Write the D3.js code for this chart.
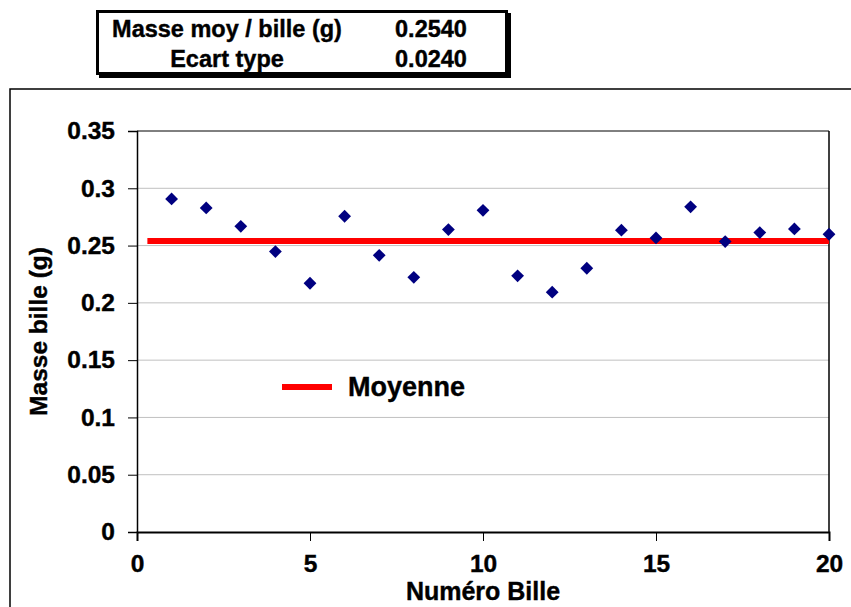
<!DOCTYPE html>
<html>
<head>
<meta charset="utf-8">
<script src="https://cdn.jsdelivr.net/npm/d3@7"></script>
<style>
  html, body { margin: 0; padding: 0; background: #ffffff; }
  svg { display: block; font-family: "Liberation Sans", Arial, sans-serif; font-weight: bold; }
  text { stroke: #000; stroke-width: 0.4px; fill: #000; }
</style>
</head>
<body>
<svg id="chart" width="851" height="607"></svg>
<script>
// ---- data ----
const billeNumbers = [1,2,3,4,5,6,7,8,9,10,11,12,13,14,15,16,17,18,19,20];
const masses = [0.2907,0.2829,0.2668,0.2448,0.2171,0.2756,0.2415,0.2223,0.2640,0.2808,
                0.2236,0.2093,0.2302,0.2634,0.2567,0.2838,0.2535,0.2613,0.2645,0.2599];
const meanX = [0.3, 20];
const meanY = [0.254, 0.254];
const yTicks = [0, 0.05, 0.1, 0.15, 0.2, 0.25, 0.3, 0.35];
const xTicks = [0, 5, 10, 15, 20];
const statLabels = ["Masse moy / bille (g)", "Ecart type"];
const statValues = ["0.2540", "0.0240"];
const legendLabel = "Moyenne";
const xTitle = "Numéro Bille";
const yTitle = "Masse bille (g)";

const svg = d3.select("#chart");
const pLeft = 137, pRight = 829, pTop = 131, pBottom = 532;

const x = d3.scaleLinear().domain([0, 20]).range([pLeft, pRight]);
const y = d3.scaleLinear().domain([0, 0.35]).range([pBottom, pTop]);

// outer chart border
svg.append("rect").attr("x", 10).attr("y", 89).attr("width", 900).attr("height", 600)
  .attr("fill", "none").attr("stroke", "#000").attr("stroke-width", 1.5);

// stats table with shadow
svg.append("rect").attr("x", 99).attr("y", 13).attr("width", 412).attr("height", 65).attr("fill", "#000");
svg.append("rect").attr("x", 97.5).attr("y", 11.5).attr("width", 409).attr("height", 62)
  .attr("fill", "#fff").attr("stroke", "#000").attr("stroke-width", 3);
const rowsY = [37, 67];
statLabels.forEach((t, i) => {
  svg.append("text").attr("x", 227).attr("y", rowsY[i]).attr("text-anchor", "middle")
    .attr("font-size", 23.5).text(t);
  svg.append("text").attr("x", 431).attr("y", rowsY[i]).attr("text-anchor", "middle")
    .attr("font-size", 23.5).text(statValues[i]);
});

// gridlines
svg.append("g").selectAll("line").data(yTicks.filter(d => d > 0 && d < 0.35)).join("line")
  .attr("x1", pLeft).attr("x2", pRight).attr("y1", d => y(d)).attr("y2", d => y(d))
  .attr("stroke", "#c0c0c0").attr("stroke-width", 1);

// plot border top/right
svg.append("line").attr("x1", pLeft).attr("x2", pRight).attr("y1", pTop).attr("y2", pTop)
  .attr("stroke", "#000").attr("stroke-width", 1);
svg.append("line").attr("x1", pRight).attr("x2", pRight).attr("y1", pTop).attr("y2", pBottom)
  .attr("stroke", "#000").attr("stroke-width", 1.5);

// axes
const yAxis = d3.axisLeft(y).tickValues(yTicks).tickSize(9).tickPadding(13)
  .tickFormat(d => String(+d.toFixed(2)));
const gy = svg.append("g").attr("transform", `translate(${pLeft},0)`).call(yAxis);
gy.select(".domain").attr("stroke-width", 1.5);
gy.selectAll(".tick line").attr("stroke-width", 1);
gy.selectAll("text").attr("font-size", 24.5).attr("font-family", "Liberation Sans, Arial, sans-serif")
  .attr("font-weight", "bold");

const xAxis = d3.axisBottom(x).tickValues(xTicks).tickSize(9).tickPadding(14).tickFormat(d3.format("d"));
const gx = svg.append("g").attr("transform", `translate(0,${pBottom})`).call(xAxis);
gx.select(".domain").attr("stroke-width", 2);
gx.selectAll(".tick line").attr("stroke-width", 1);
gx.selectAll("text").attr("font-size", 24.5).attr("font-family", "Liberation Sans, Arial, sans-serif")
  .attr("font-weight", "bold");

// axis titles
svg.append("text").attr("x", (pLeft + pRight) / 2).attr("y", 600).attr("text-anchor", "middle")
  .attr("font-size", 25).text(xTitle);
svg.append("text").attr("transform", `translate(47,${(pTop + pBottom) / 2}) rotate(-90)`)
  .attr("text-anchor", "middle").attr("font-size", 24.5).text(yTitle);

// mean line
svg.append("path").datum(meanX.map((d, i) => [d, meanY[i]]))
  .attr("d", d3.line().x(d => x(d[0])).y(d => y(d[1])))
  .attr("stroke", "#ff0000").attr("stroke-width", 6).attr("fill", "none");

// points
svg.append("g").selectAll("path").data(billeNumbers).join("path")
  .attr("d", d3.symbol().type(d3.symbolSquare).size(82))
  .attr("transform", (d, i) => `translate(${x(d)},${y(masses[i])}) rotate(45)`)
  .attr("fill", "#000080");

// legend
svg.append("line").attr("x1", 282).attr("x2", 332).attr("y1", 387).attr("y2", 387)
  .attr("stroke", "#ff0000").attr("stroke-width", 6);
svg.append("text").attr("x", 348).attr("y", 396).attr("font-size", 27).text(legendLabel);
</script>
</body>
</html>
